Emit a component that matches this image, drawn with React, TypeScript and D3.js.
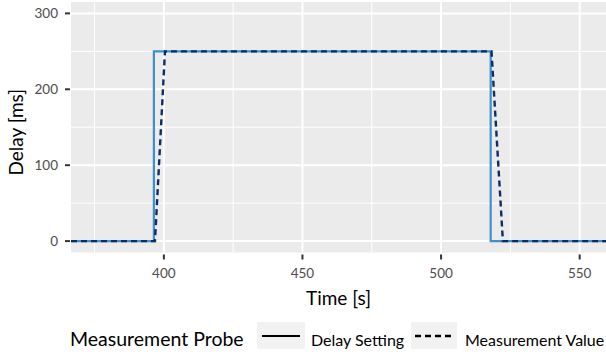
import React from 'react';
import * as d3 from 'd3';

// delay setting (step) and measured delay, time in s, delay in ms
const settingTime = [366.5, 396.4, 396.4, 517.9, 517.9, 559.5];
const settingDelay = [0, 0, 250, 250, 0, 0];
const measuredTime = [366.5, 396.8, 400.4, 518.2, 522.3, 559.5];
const measuredDelay = [0, 0, 250, 250, 0, 0];

const xTicks = [400, 450, 500, 550];
const xMinor = [375, 425, 475, 525];
const yTicks = [0, 100, 200, 300];
const yMinor = [50, 150, 250];

const legendTitle = 'Measurement Probe';
const legendLabels = ['Delay Setting', 'Measurement Value'];

const FONT = 'Lato, "Open Sans", sans-serif';

export default function App() {
  const width = 606;
  const height = 354;
  const panel = { left: 71, right: 606, top: 2, bottom: 252.5 };

  const x = d3.scaleLinear().domain([366.5, 559.5]).range([panel.left, panel.right]);
  const y = d3.scaleLinear().domain([-15, 315]).range([panel.bottom, panel.top]);

  const line = d3.line<[number, number]>()
    .x(d => x(d[0]))
    .y(d => y(d[1]));

  const settingPts = settingTime.map((t, i) => [t, settingDelay[i]] as [number, number]);
  const measuredPts = measuredTime.map((t, i) => [t, measuredDelay[i]] as [number, number]);

  const legendY = 336;

  return (
    <svg width={width} height={height} style={{ position: 'absolute', left: 0, top: 0 }}>
      <defs>
        <clipPath id="panel-clip">
          <rect x={panel.left} y={panel.top} width={panel.right - panel.left} height={panel.bottom - panel.top} />
        </clipPath>
      </defs>
      <rect x={0} y={0} width={width} height={height} fill="white" />
      <rect x={panel.left} y={panel.top} width={panel.right - panel.left} height={panel.bottom - panel.top} fill="#ebebeb" />

      {/* minor grid */}
      {xMinor.map(v => (
        <line key={'xm' + v} x1={x(v)} x2={x(v)} y1={panel.top} y2={panel.bottom} stroke="white" strokeWidth={1} />
      ))}
      {yMinor.map(v => (
        <line key={'ym' + v} x1={panel.left} x2={panel.right} y1={y(v)} y2={y(v)} stroke="white" strokeWidth={1} />
      ))}
      {/* major grid */}
      {xTicks.map(v => (
        <line key={'xg' + v} x1={x(v)} x2={x(v)} y1={panel.top} y2={panel.bottom} stroke="white" strokeWidth={2} />
      ))}
      {yTicks.map(v => (
        <line key={'yg' + v} x1={panel.left} x2={panel.right} y1={y(v)} y2={y(v)} stroke="white" strokeWidth={2} />
      ))}

      <g clipPath="url(#panel-clip)">
        <path d={line(settingPts) ?? ''} fill="none" stroke="#3f8fcb" strokeWidth={2.2} />
        <path d={line(measuredPts) ?? ''} fill="none" stroke="#0b2d66" strokeWidth={2.4} strokeDasharray="6,4" />
      </g>

      {/* y axis */}
      {yTicks.map(v => (
        <g key={'yt' + v}>
          <line x1={panel.left - 6} x2={panel.left - 1} y1={y(v)} y2={y(v)} stroke="#333" strokeWidth={2} />
          <text x={panel.left - 13} y={y(v)} dy="0.35em" textAnchor="end" fontFamily={FONT} fontSize={13.5} fill="#4d4d4d">{v}</text>
        </g>
      ))}
      {/* x axis */}
      {xTicks.map(v => (
        <g key={'xt' + v}>
          <line x1={x(v)} x2={x(v)} y1={panel.bottom + 2} y2={panel.bottom + 7} stroke="#333" strokeWidth={2} />
          <text x={x(v)} y={278} textAnchor="middle" fontFamily={FONT} fontSize={13.5} fill="#4d4d4d">{v}</text>
        </g>
      ))}

      <text x={(panel.left + panel.right) / 2} y={305} textAnchor="middle" fontFamily={FONT} fontSize={19} fill="black">Time [s]</text>
      <text transform={`translate(23,${(panel.top + panel.bottom) / 2 + 5}) rotate(-90)`} textAnchor="middle" fontFamily={FONT} fontSize={19} fill="black">Delay [ms]</text>

      {/* legend */}
      <text x={70} y={346} fontFamily={FONT} fontSize={19.5} fill="black">{legendTitle}</text>
      <rect x={257} y={322} width={48} height={27} fill="#f2f2f2" />
      <line x1={262} x2={300} y1={legendY} y2={legendY} stroke="black" strokeWidth={2} />
      <text x={311} y={346} fontFamily={FONT} fontSize={16} fill="black">{legendLabels[0]}</text>
      <rect x={411} y={322} width={46} height={27} fill="#f2f2f2" />
      <line x1={415} x2={453} y1={legendY} y2={legendY} stroke="black" strokeWidth={2.4} strokeDasharray="6,4" />
      <text x={465} y={346} fontFamily={FONT} fontSize={16} fill="black">{legendLabels[1]}</text>
    </svg>
  );
}
